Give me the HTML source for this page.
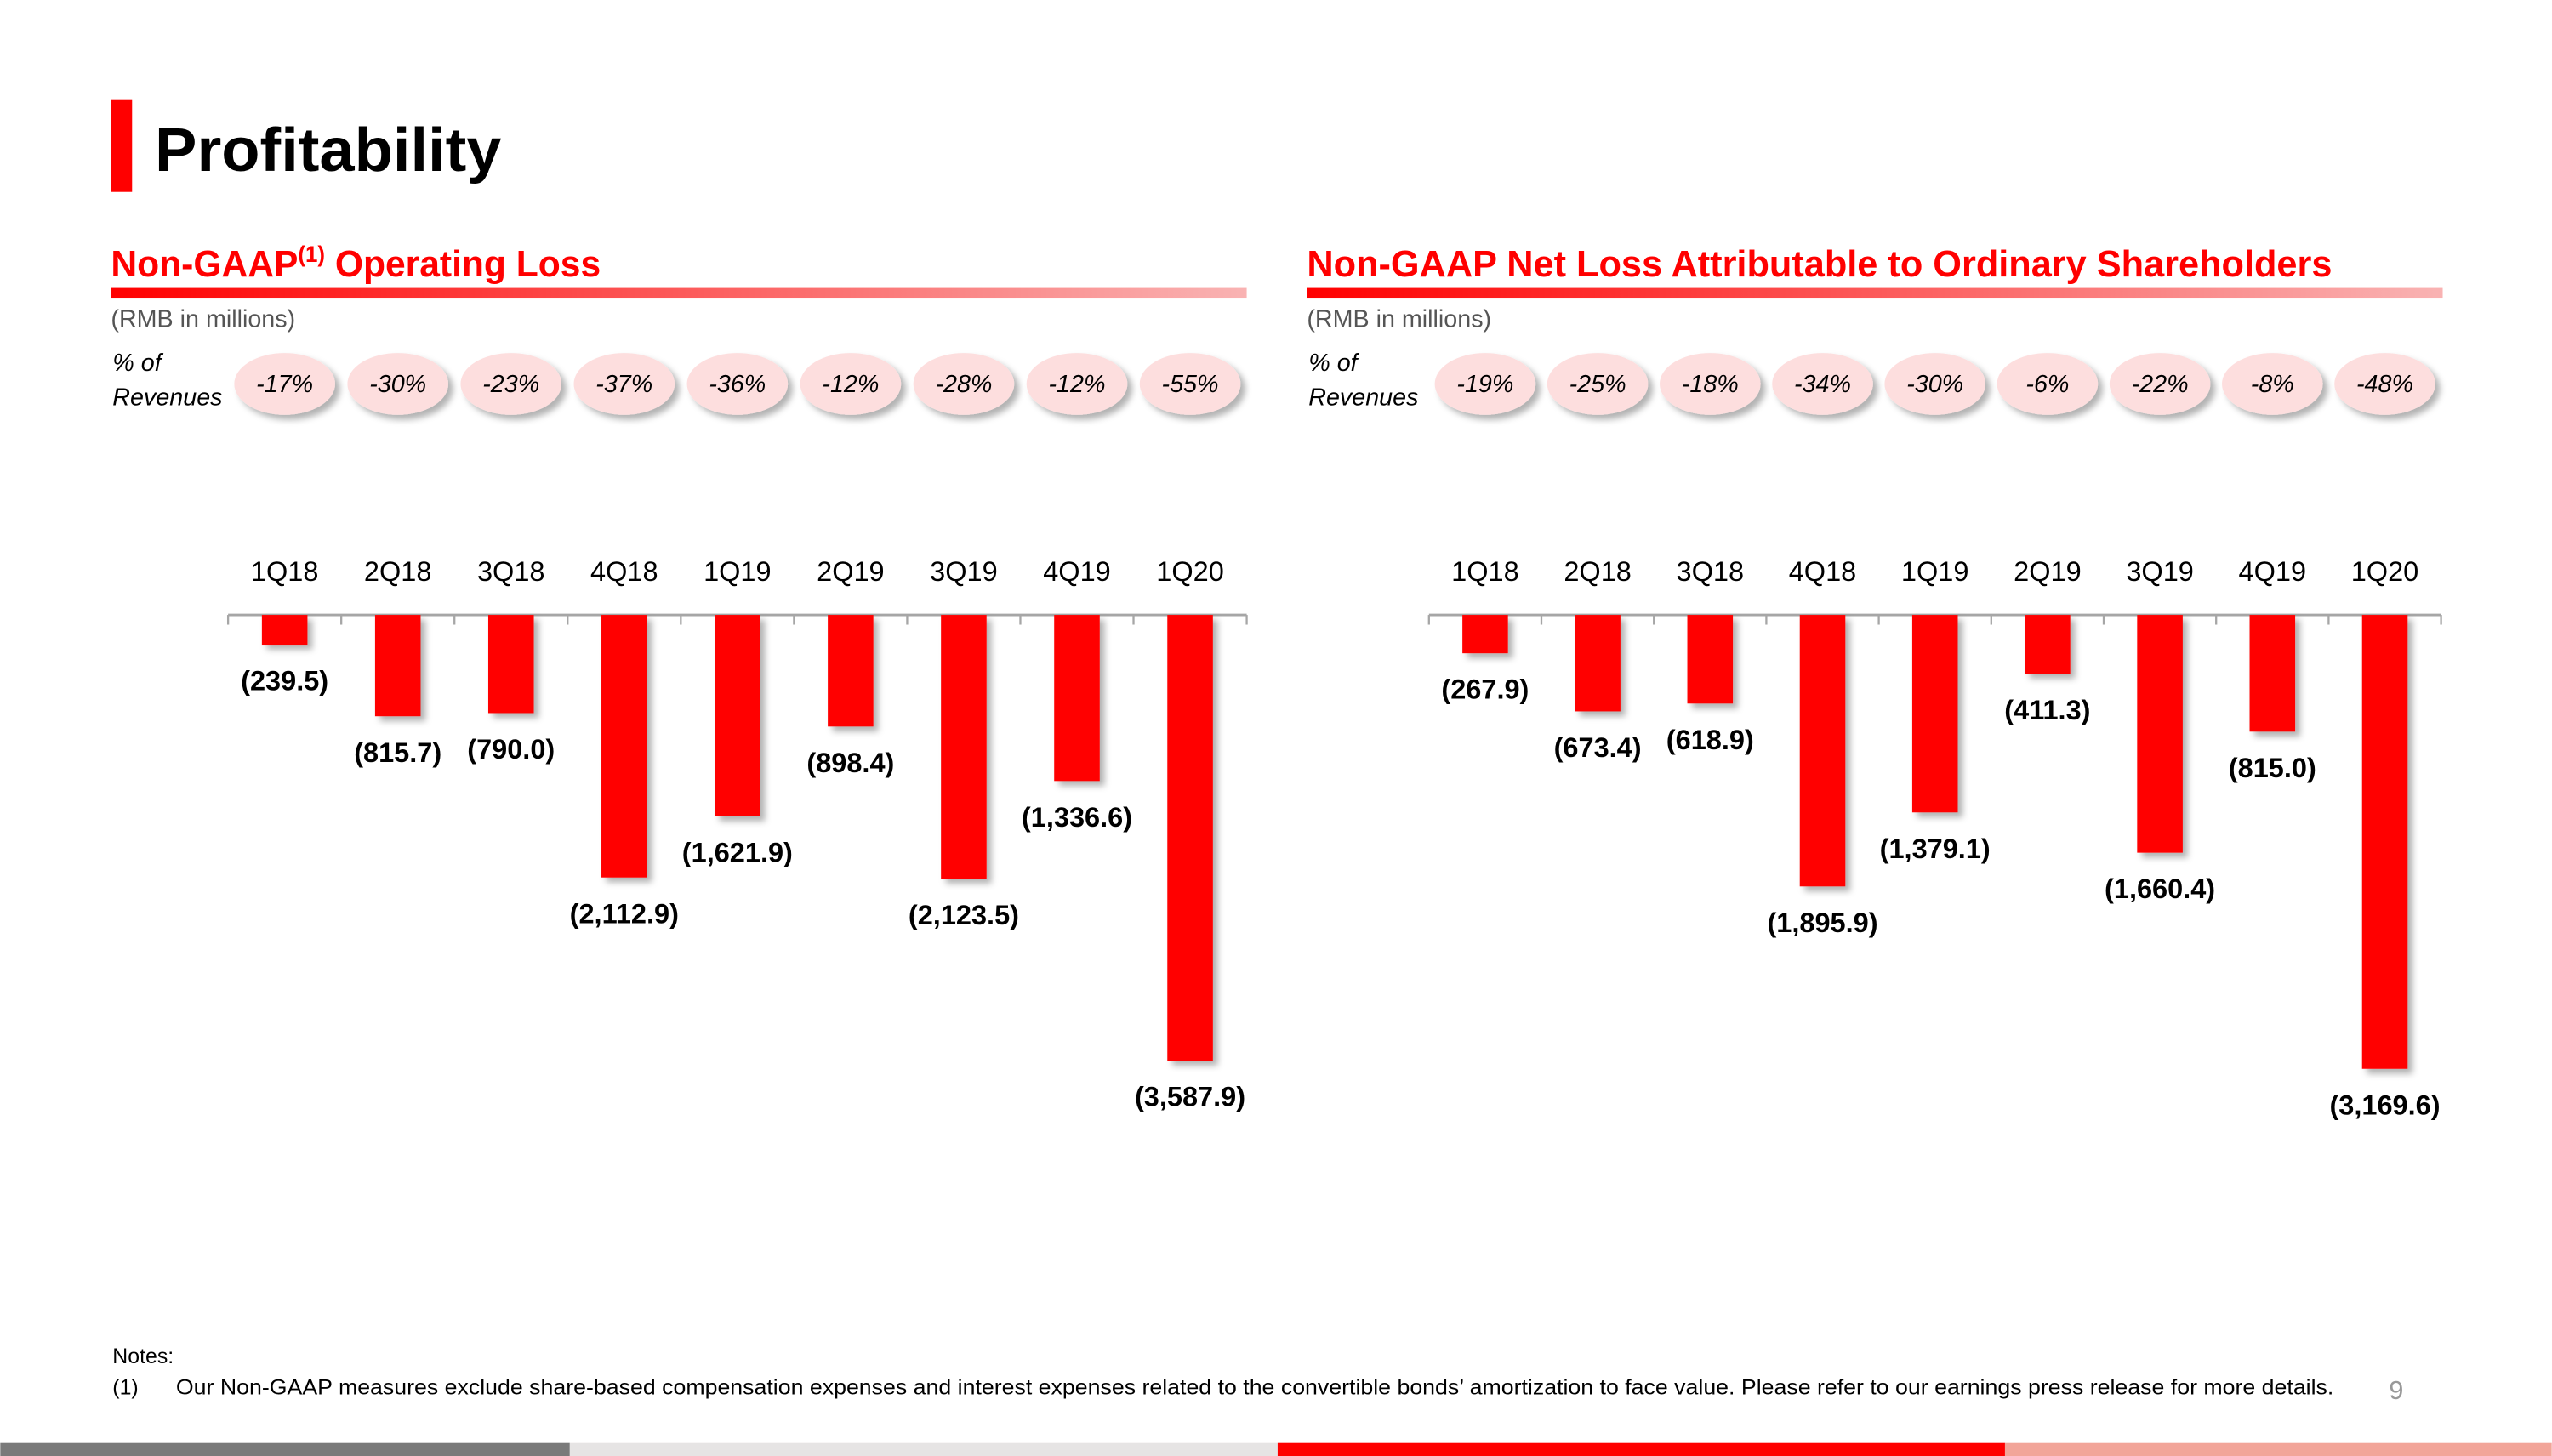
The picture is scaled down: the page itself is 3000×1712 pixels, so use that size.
<!DOCTYPE html>
<html><head><meta charset="utf-8"><style>
html,body{margin:0;padding:0;background:#fff;}
svg{display:block;font-family:"Liberation Sans",sans-serif;}
</style></head><body>
<svg id="s" width="3000" height="1712" viewBox="0 0 1568 895">
<defs>
<linearGradient id="g" x1="0" x2="1"><stop offset="0" stop-color="#ff0000"/><stop offset="1" stop-color="#f9b3b3"/></linearGradient>
<filter id="sh" x="-30%" y="-30%" width="180%" height="180%"><feDropShadow dx="3" dy="3" stdDeviation="2" flood-color="#000" flood-opacity="0.3"/></filter>
</defs>
<rect x="68" y="61" width="13" height="57" fill="#ff0000"/>
<text x="95" y="105" font-size="38" font-weight="bold" fill="#000" textLength="213" lengthAdjust="spacingAndGlyphs">Profitability</text>
<g id="L"></g><g id="R"></g>
<text x="69" y="838" font-size="13" fill="#000">Notes:</text>
<text x="69" y="857" font-size="13" fill="#000">(1)</text>
<text x="108" y="857" font-size="13" fill="#000" textLength="1326" lengthAdjust="spacingAndGlyphs">Our Non-GAAP measures exclude share-based compensation expenses and interest expenses related to the convertible bonds’ amortization to face value. Please refer to our earnings press release for more details.</text>
<text x="1468" y="860" font-size="16" fill="#999">9</text>
<rect x="0" y="887" width="350" height="8" fill="#7a7a7a"/>
<rect x="350" y="887" width="435" height="8" fill="#e6e4e4"/>
<rect x="785" y="887" width="447" height="8" fill="#ff0000"/>
<rect x="1232" y="887" width="336" height="8" fill="#f2a599"/>
</svg>
<script>
const categories=["1Q18","2Q18","3Q18","4Q18","1Q19","2Q19","3Q19","4Q19","1Q20"];
const opLoss=[239.5,815.7,790.0,2112.9,1621.9,898.4,2123.5,1336.6,3587.9];
const opPct=["-17%","-30%","-23%","-37%","-36%","-12%","-28%","-12%","-55%"];
const netLoss=[267.9,673.4,618.9,1895.9,1379.1,411.3,1660.4,815.0,3169.6];
const netPct=["-19%","-25%","-18%","-34%","-30%","-6%","-22%","-8%","-48%"];
const NS="http://www.w3.org/2000/svg";
function mk(p,t,a,txt){const e=document.createElementNS(NS,t);for(const k in a)e.setAttribute(k,a[k]);if(txt!=null)e.textContent=txt;p.appendChild(e);return e;}
function fmt(v){return "("+v.toLocaleString("en-US",{minimumFractionDigits:1,maximumFractionDigits:1})+")";}
function panel(g,tx,title,sup,titleLen,ax0,ax1,vals,pcts,maxPx,prefix){
  let t=mk(g,"text",{x:tx,y:170,"font-size":23,"font-weight":"bold",fill:"#ff0000"});
  
  
  if(sup){mk(t,"tspan",{},"Non-GAAP");mk(t,"tspan",{"font-size":14,dy:-9},"(1)");mk(t,"tspan",{dy:9}," Operating Loss");t.setAttribute("textLength",titleLen);t.setAttribute("lengthAdjust","spacingAndGlyphs");}
  else{t.textContent=title;t.setAttribute("textLength",titleLen);t.setAttribute("lengthAdjust","spacingAndGlyphs");}
  let r=mk(g,"rect",{x:tx,y:177,width:698,height:6,fill:"url(#g)"});
  
  
  let u=mk(g,"text",{x:tx,y:201,"font-size":15,fill:"#555"},"(RMB in millions)");
  
  
  let p1=mk(g,"text",{x:tx+1,y:228,"font-size":15,"font-style":"italic",fill:"#000"},"% of");
  
  
  let p2=mk(g,"text",{x:tx+1,y:249,"font-size":15,"font-style":"italic",fill:"#000"},"Revenues");
  
  
  const n=categories.length, bw=(ax1-ax0)/n, ay=378, mx=Math.max(...vals);
  const y=v=>ay+v/mx*maxPx;
  const xc=i=>ax0+bw*(i+0.5);
  let ax=mk(g,"line",{x1:ax0,x2:ax1,y1:ay,y2:ay,stroke:"#a6a6a6","stroke-width":1.5});
  
  
  for(let i=0;i<=n;i++){let tk=mk(g,"line",{x1:ax0+bw*i,x2:ax0+bw*i,y1:ay,y2:ay+6,stroke:"#a6a6a6","stroke-width":1.2});
    
    }
  categories.forEach((c,i)=>{
    let pe=mk(g,"ellipse",{cx:xc(i),cy:236,rx:31,ry:19,fill:"#fddede",filter:"url(#sh)"});
    
    
    let pt=mk(g,"text",{x:xc(i),y:241,"font-size":15,"font-style":"italic","text-anchor":"middle",fill:"#000"},pcts[i]);
    
    
    let cl=mk(g,"text",{x:xc(i),y:357,"font-size":17,"text-anchor":"middle",fill:"#000"},c);
    
    
    let b=mk(g,"rect",{x:xc(i)-14,y:ay,width:28,height:y(vals[i])-ay,fill:"#ff0000",filter:"url(#sh)"});
    
    
    let vl=mk(g,"text",{x:xc(i),y:y(vals[i])+28,"font-size":17,"font-weight":"bold","text-anchor":"middle",fill:"#000"},fmt(vals[i]));
    
    
  });
}
panel(document.getElementById("L"),68,"",true,301,140,766,opLoss,opPct,274,"op-loss");
panel(document.getElementById("R"),803,"Non-GAAP Net Loss Attributable to Ordinary Shareholders",false,630,878,1500,netLoss,netPct,279,"net-loss");
</script>
</body></html>
